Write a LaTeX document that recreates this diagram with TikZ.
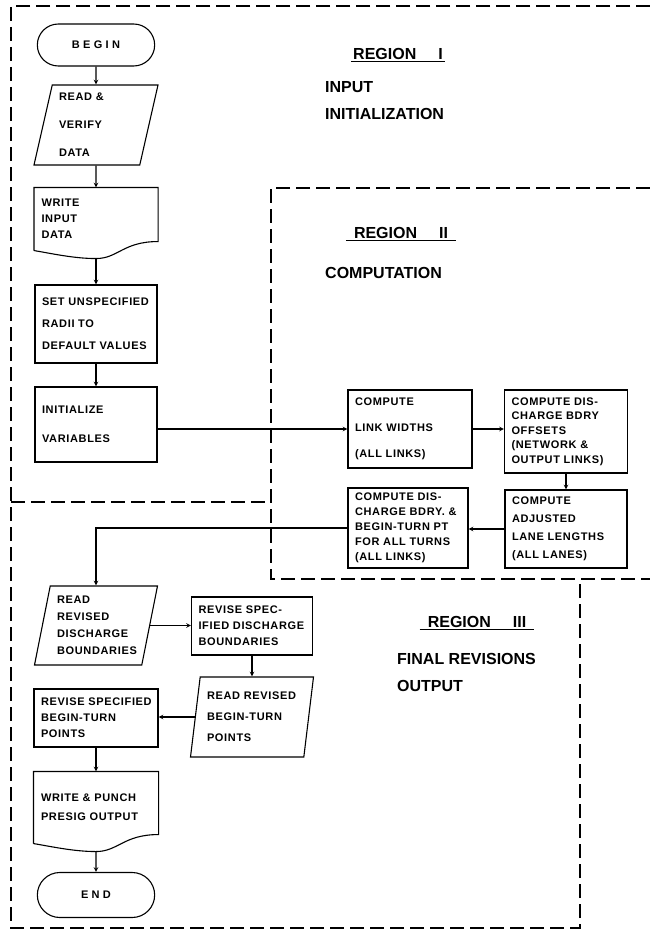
\documentclass[tikz,border=0pt]{standalone}
\usepackage{fontspec}
\setmainfont{Liberation Sans}
\newfontfamily\boxfam{Liberation Sans}[LetterSpace=6]
\usetikzlibrary{shapes.geometric,shapes.misc}

\tikzset{
	flowline/.style={line width=1.1pt},
	region/.style={line width=1.3pt, dash pattern=on 14pt off 6pt},
	base/.style={draw, flowline, font=\boxfam\bfseries\fontsize{11}{13}\selectfont},
	lsp/.style={font=\boxfam\bfseries\fontsize{11}{#1}\selectfont},
	term/.style={base, rounded rectangle, minimum width=124pt, minimum height=42pt,
		font=\boxfam\bfseries\fontsize{11}{13}\selectfont\addfontfeature{LetterSpace=30}},
	procbox/.style={base, rectangle, align=left, inner xsep=7pt, inner ysep=0pt},
	docbox/.style={procbox, draw=none},
	io/.style 2 args={base, trapezium, trapezium stretches body, align=left,
		inner xsep=1pt, inner ysep=0pt, trapezium left angle=#1, trapezium right angle=#2},
	title/.style={font=\bfseries\fontsize{16}{27}\selectfont, align=left, inner sep=2pt}
}

% document symbol: wavy lower edge, coordinate <name>-w at its lowest point
\newcommand\docwave[1]{%
	\draw[flowline] (#1.south west) -- (#1.north west) -- (#1.north east) -- ([yshift=9pt]#1.south east)
		.. controls +(-35,0) and +(22,0) .. ([yshift=-8pt]#1.south) coordinate (#1-w)
		.. controls +(-22,0) and +(18,3) .. (#1.south west);}

\begin{document}
\begin{tikzpicture}[x=1pt, y=-1pt, >=stealth]
	\useasboundingbox (0,0) rectangle (650,939);
	
	% region borders
	\draw[region] (650,6) -- (11,6) -- (11,928) -- (580,928) -- (580,579);
	\draw[region] (11,502) -- (271,502);
	\draw[region] (650,188) -- (271,188) -- (271,579) -- (650,579);
	
	% region titles
	\node[title] (r1) at (398,54) {REGION\hspace{22pt}I};
	\draw[flowline] (r1.south west) -- (r1.south east);
	\node[title, anchor=west] (r1txt) at (323,101) {INPUT\\INITIALIZATION};
	\node[title, inner xsep=8pt] (r2) at (401,233) {REGION\hspace{22pt}II};
	\draw[flowline] (r2.south west) -- (r2.south east);
	\node[title, anchor=west] (r2txt) at (323,273) {COMPUTATION};
	\node[title, inner xsep=8pt] (r3) at (477,622) {REGION\hspace{22pt}III};
	\draw[flowline] (r3.south west) -- (r3.south east);
	\node[title, anchor=west] (r3txt) at (395,672) {FINAL REVISIONS\\OUTPUT};
	
	% region I: input and initialization
	\node[term] (begin) at (96,45) {BEGIN};
	\node[io={74}{106}, text width=74pt, minimum width=124pt, minimum height=80pt, lsp=28] (readin) at (96,125) {READ \&\\VERIFY\\DATA};
	\node[docbox, text width=109pt, minimum height=62pt, lsp=16] (wrin) at (96,219) {WRITE\\INPUT\\DATA};
	\docwave{wrin}
	\node[procbox, text width=108pt, minimum height=78pt, lsp=22] (unspec) at (96,324) {SET UNSPECIFIED\\RADII TO\\DEFAULT VALUES};
	\node[procbox, text width=108pt, minimum height=75pt, lsp=29] (init) at (96,424.5) {INITIALIZE\\VARIABLES};
	
	\draw[flowline, ->] (begin) -- (readin);
	\draw[flowline, ->] (readin) -- (wrin);
	\draw[flowline, ->] (wrin-w) -- (unspec);
	\draw[flowline, ->] (unspec) -- (init);
	
	% region II: computation
	\node[procbox, text width=110pt, minimum height=78pt, lsp=26] (link) at (410,429) {COMPUTE\\LINK WIDTHS\\(ALL LINKS)};
	\node[procbox, text width=109pt, minimum height=83pt, lsp=14.5] (offsets) at (566,431.5) {COMPUTE DIS-\\CHARGE BDRY\\OFFSETS\\(NETWORK \&\\OUTPUT LINKS)};
	\node[procbox, text width=108pt, minimum height=78pt, lsp=18] (adjusted) at (566,529) {COMPUTE\\ADJUSTED\\LANE LENGTHS\\(ALL LANES)};
	\node[procbox, text width=106pt, minimum height=80pt, lsp=15] (disbdry) at (408,528) {COMPUTE DIS-\\CHARGE BDRY. \&\\BEGIN-TURN PT\\FOR ALL TURNS\\(ALL LINKS)};
	
	\draw[flowline, ->] (init.east |- link.west) -- (link.west);
	\draw[flowline, ->] (link.east) -- (link.east -| offsets.west);
	\draw[flowline, ->] (offsets) -- (adjusted);
	\draw[flowline, ->] (adjusted.west) -- (adjusted.west -| disbdry.east);
	
	% region III: final revisions and output
	\node[io={75}{105}, text width=78pt, minimum width=123pt, minimum height=79pt, lsp=17] (readrev) at (96,625.5) {READ\\REVISED\\DISCHARGE\\BOUNDARIES};
	\node[procbox, text width=107pt, minimum height=58pt, lsp=16] (revspec) at (252,626) {REVISE SPEC-\\IFIED DISCHARGE\\BOUNDARIES};
	\node[io={79}{101}, text width=90pt, minimum width=123pt, minimum height=80pt, lsp=21] (readbt) at (252,717) {READ REVISED\\BEGIN-TURN\\POINTS};
	\node[procbox, text width=110pt, minimum height=58pt, lsp=16] (revbt) at (96,718) {REVISE SPECIFIED\\BEGIN-TURN\\POINTS};
	\node[docbox, text width=110pt, minimum height=71pt, lsp=19] (punch) at (96,807.5) {WRITE \& PUNCH\\PRESIG OUTPUT};
	\docwave{punch}
	\node[term, minimum height=45pt] (end) at (96,895) {END};
	
	\draw[flowline, ->] (disbdry.west) -| (readrev.north);
	\draw[flowline, ->] (readrev.east) -- (readrev.east -| revspec.west);
	\draw[flowline, ->] (revspec) -- (readbt);
	\draw[flowline, ->] (readbt.west) -- (readbt.west -| revbt.east);
	\draw[flowline, ->] (revbt) -- (punch);
	\draw[flowline, ->] (punch-w) -- (end);
\end{tikzpicture}
\end{document}
